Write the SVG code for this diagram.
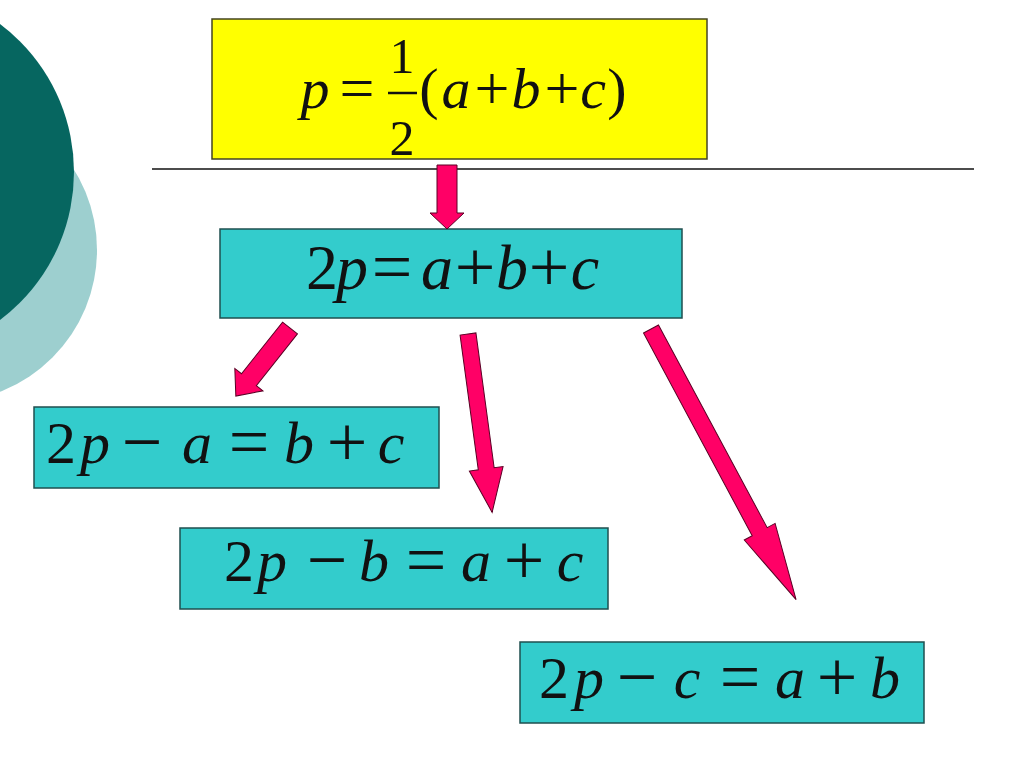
<svg xmlns="http://www.w3.org/2000/svg" width="1024" height="767" viewBox="0 0 1024 767">
<style>
.box{fill:#33cccc;stroke:#1f4f4f;stroke-width:1.5}
.yel{fill:#ffff00;stroke:#444422;stroke-width:1.5}
.eq{font-family:"Liberation Serif","Times New Roman",serif;fill:#111;text-anchor:middle}
.i{font-style:italic}
.arr{fill:#ff0066;stroke:#5a0024;stroke-width:1}
</style>
<rect width="1024" height="767" fill="#ffffff"/>
<g id="decor">
<circle cx="-55" cy="250" r="152" fill="#9dcfcf"/>
<circle cx="-111" cy="172" r="185" fill="#066660"/>
<line x1="152" y1="169" x2="974" y2="169" stroke="#111" stroke-width="1.5"/>
</g>
<g id="node-p">
<rect class="yel" x="212" y="19" width="495" height="140"/>
<text class="eq" font-size="58" y="108"><tspan class="i" x="315">p</tspan><tspan x="357" y="109" font-size="62">=</tspan><tspan x="429" y="108">(</tspan><tspan class="i" x="456">a</tspan><tspan x="492" y="109" font-size="62">+</tspan><tspan class="i" x="526" y="108">b</tspan><tspan x="562" y="109" font-size="62">+</tspan><tspan class="i" x="593" y="108">c</tspan><tspan x="617">)</tspan></text>
<text class="eq" font-size="50" y="73" x="402">1</text>
<line x1="388" y1="93" x2="417" y2="93" stroke="#111" stroke-width="2.5"/>
<text class="eq" font-size="50" y="155" x="402">2</text>
</g>
<g id="node-2p">
<rect class="box" x="220" y="229" width="462" height="89"/>
<text class="eq" font-size="64" y="289"><tspan x="322">2</tspan><tspan class="i" x="352">p</tspan><tspan x="392" y="291" font-size="72">=</tspan><tspan class="i" x="437" y="289">a</tspan><tspan x="475" y="291" font-size="72">+</tspan><tspan class="i" x="512" y="289">b</tspan><tspan x="549" y="291" font-size="72">+</tspan><tspan class="i" x="585" y="289">c</tspan></text>
</g>
<g id="node-a">
<rect class="box" x="34" y="407" width="405" height="81"/>
<text class="eq" font-size="60" y="463"><tspan x="61">2</tspan><tspan class="i" x="95">p</tspan><tspan x="142" y="466" font-size="72">−</tspan><tspan class="i" x="197" y="463">a</tspan><tspan x="249" y="466" font-size="72">=</tspan><tspan class="i" x="299" y="463">b</tspan><tspan x="347" y="466" font-size="72">+</tspan><tspan class="i" x="391" y="463">c</tspan></text>
</g>
<g id="node-b">
<rect class="box" x="180" y="528" width="428" height="81"/>
<text class="eq" font-size="60" y="581"><tspan x="239">2</tspan><tspan class="i" x="272">p</tspan><tspan x="327" y="584" font-size="72">−</tspan><tspan class="i" x="374" y="581">b</tspan><tspan x="426" y="584" font-size="72">=</tspan><tspan class="i" x="476" y="581">a</tspan><tspan x="524" y="584" font-size="72">+</tspan><tspan class="i" x="570" y="581">c</tspan></text>
</g>
<g id="node-c">
<rect class="box" x="520" y="642" width="404" height="81"/>
<text class="eq" font-size="60" y="698"><tspan x="554">2</tspan><tspan class="i" x="589">p</tspan><tspan x="637" y="701" font-size="72">−</tspan><tspan class="i" x="687" y="698">c</tspan><tspan x="740" y="701" font-size="72">=</tspan><tspan class="i" x="790" y="698">a</tspan><tspan x="837" y="701" font-size="72">+</tspan><tspan class="i" x="885" y="698">b</tspan></text>
</g>
<g id="connectors">
<path class="arr" transform="translate(447,165) rotate(90)" d="M0,-10 L48,-10 L48,-17 L64,0 L48,17 L48,10 L0,10 Z"/>
<path class="arr" transform="translate(290,328) rotate(128.5)" d="M0,-9.5 L66,-9.5 L66,-18 L87,0 L66,18 L66,9.5 L0,9.5 Z"/>
<path class="arr" transform="translate(468,334) rotate(82.3)" d="M0,-8 L136,-8 L136,-17 L180,0 L136,17 L136,8 L0,8 Z"/>
<path class="arr" transform="translate(651,329) rotate(61.8)" d="M0,-8.5 L230,-8.5 L230,-17.5 L307,0 L230,17.5 L230,8.5 L0,8.5 Z"/>
</g>
</svg>
